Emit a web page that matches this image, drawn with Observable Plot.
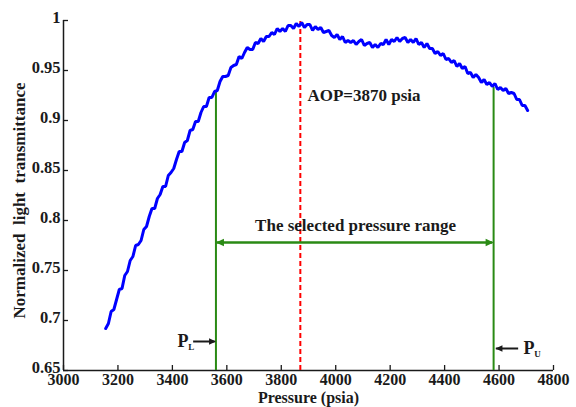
<!DOCTYPE html>
<html>
<head>
<meta charset="utf-8">
<script src="https://cdn.jsdelivr.net/npm/d3@7"></script>
<script src="https://cdn.jsdelivr.net/npm/@observablehq/plot@0.6"></script>
<style>
  html, body { margin: 0; padding: 0; background: #fff; }
  #chart svg { display: block; }
</style>
</head>
<body>
<div id="chart"></div>
<script>
// ---- data ----
const pressureStart = 3155, pressureStep = 10;
const transmittance = [
  0.692,0.697,0.709,0.711,0.721,0.731,0.732,0.745,0.749,0.760,
  0.764,0.775,0.776,0.780,0.791,0.794,0.804,0.812,0.812,0.822,
  0.826,0.834,0.834,0.845,0.848,0.852,0.861,0.869,0.869,0.878,
  0.880,0.890,0.891,0.899,0.899,0.908,0.914,0.914,0.923,0.923,
  0.929,0.930,0.939,0.944,0.944,0.945,0.953,0.955,0.956,0.964,
  0.962,0.968,0.973,0.971,0.971,0.978,0.977,0.982,0.979,0.984,
  0.984,0.988,0.986,0.992,0.989,0.992,0.989,0.995,0.995,0.992,
  0.997,0.994,0.998,0.993,0.996,0.996,0.990,0.994,0.991,0.993,
  0.988,0.989,0.990,0.985,0.983,0.986,0.981,0.984,0.978,0.980,
  0.978,0.980,0.976,0.979,0.981,0.975,0.977,0.978,0.973,0.976,
  0.973,0.977,0.976,0.981,0.976,0.981,0.979,0.983,0.979,0.982,
  0.983,0.978,0.981,0.978,0.982,0.976,0.978,0.973,0.977,0.972,
  0.972,0.967,0.969,0.965,0.967,0.961,0.962,0.958,0.960,0.954,
  0.957,0.952,0.954,0.947,0.948,0.943,0.946,0.943,0.938,0.941,
  0.936,0.938,0.934,0.937,0.931,0.933,0.930,0.932,0.927,0.928,
  0.927,0.921,0.921,0.915,0.915,0.910
];
const xTicks = [3000,3200,3400,3600,3800,4000,4200,4400,4600,4800];
const yTicks = [0.65,0.7,0.75,0.8,0.85,0.9,0.95,1];
const xDomain = [3000, 4800];
const yDomain = [0.65, 1];

const aop = 3870;                       // AOP pressure
const pLower = 3560, pUpper = 4580;     // selected range limits
const pLowerTop = 0.930, pUpperTop = 0.933;
const rangeArrowY = 0.778;
const rangeLabel = {x: 4073, y: 0.795, text: "The selected pressure range"};
const aopLabel = {x: 3896, y: 0.925, text: "AOP=3870 psia"};
const pLArrow = {x1: 3478, x2: pLower, y: 0.679};
const pUArrow = {x1: 4672, x2: pUpper + 7, y: 0.672};
const pLText = [{x: 3419, y: 0.679, t: "P", sub: false}, {x: 3458, y: 0.673, t: "L", sub: true}];
const pUText = [{x: 4690, y: 0.672, t: "P", sub: false}, {x: 4729, y: 0.666, t: "U", sub: true}];

const curve = transmittance.map((v, i) => ({p: pressureStart + i * pressureStep, v}));

// ---- styling ----
const W = 576, H = 407;
const mL = 63, mR = 23, mT = 20, mB = 37;
const frameW = W - mL - mR, frameH = H - mT - mB;
const font = "'Liberation Serif', 'Times New Roman', serif";
const green = "#2a8a14";
const ink = "#1a1a1a";

// arrow-head symbols with the tip at the origin
const headLeft = {draw(ctx, size) { const s = Math.sqrt(size); ctx.moveTo(0, 0); ctx.lineTo(1.5*s, -0.72*s); ctx.lineTo(1.5*s, 0.72*s); ctx.closePath(); }};
const headRight = {draw(ctx, size) { const s = Math.sqrt(size); ctx.moveTo(0, 0); ctx.lineTo(-1.5*s, -0.72*s); ctx.lineTo(-1.5*s, 0.72*s); ctx.closePath(); }};

const chart = Plot.plot({
  width: W, height: H,
  marginLeft: mL, marginRight: mR, marginTop: mT, marginBottom: mB,
  style: {fontFamily: font, fontWeight: "bold", fontSize: "16px", color: ink, background: "#fff"},
  x: {domain: xDomain, ticks: xTicks},
  y: {domain: yDomain, ticks: yTicks},
  marks: [
    Plot.axisX(xTicks, {tickSize: 0, tickPadding: 3, label: null, tickFormat: d => String(d), fontSize: 16, fontWeight: "bold", fill: ink}),
    Plot.axisY(yTicks, {tickSize: 0, tickPadding: 3, label: null, tickFormat: d => String(d), fontSize: 16.5, fontWeight: "bold", fill: ink, dy: -3}),
    // inward tick marks
    Plot.tickX(xTicks, {x: d => d, stroke: ink, strokeWidth: 1.3, insetTop: frameH - 5}),
    Plot.tickY(yTicks, {y: d => d, stroke: ink, strokeWidth: 1.3, insetRight: frameW - 5}),
    // spines
    Plot.ruleX([xDomain[0]], {stroke: ink, strokeWidth: 1.5}),
    Plot.ruleY([yDomain[0]], {stroke: ink, strokeWidth: 1.5}),
    // AOP line
    Plot.ruleX([aop], {y1: yDomain[0], y2: yDomain[1], stroke: "#ff0000", strokeWidth: 2, strokeDasharray: "5,3"}),
    // range limit lines
    Plot.ruleX([{x: pLower, top: pLowerTop}, {x: pUpper, top: pUpperTop}], {x: "x", y1: yDomain[0], y2: "top", stroke: green, strokeWidth: 2}),
    // curve
    Plot.line(curve, {x: "p", y: "v", stroke: "#0000ff", strokeWidth: 3, strokeLinejoin: "miter"}),
    // range double arrow
    Plot.ruleY([rangeArrowY], {x1: pLower + 3, x2: pUpper - 3, stroke: green, strokeWidth: 2.5}),
    Plot.dot([{x: pLower, y: rangeArrowY}], {x: "x", y: "y", r: 3, symbol: headLeft, fill: green, stroke: null}),
    Plot.dot([{x: pUpper, y: rangeArrowY}], {x: "x", y: "y", r: 3, symbol: headRight, fill: green, stroke: null}),
    Plot.text([rangeLabel], {x: "x", y: "y", text: "text", fontSize: 17, fontWeight: "bold", fill: ink}),
    Plot.text([aopLabel], {x: "x", y: "y", text: "text", textAnchor: "start", fontSize: 17, fontWeight: "bold", fill: ink}),
    // P_L and P_U markers
    Plot.ruleY([pLArrow], {x1: "x1", x2: d => d.x2 - 3, y: "y", stroke: ink, strokeWidth: 2}),
    Plot.dot([pLArrow], {x: "x2", y: "y", r: 2.6, symbol: headRight, fill: ink, stroke: null}),
    Plot.ruleY([pUArrow], {x1: d => d.x2 + 3, x2: "x1", y: "y", stroke: ink, strokeWidth: 2}),
    Plot.dot([pUArrow], {x: "x2", y: "y", r: 2.6, symbol: headLeft, fill: ink, stroke: null}),
    Plot.text(pLText.concat(pUText), {x: "x", y: "y", text: "t", textAnchor: "start", fontSize: d => d.sub ? 9 : 18, fontWeight: "bold", fill: ink}),
    // axis titles
    Plot.text(["Pressure (psia)"], {frameAnchor: "bottom", lineAnchor: "middle", dy: 27, fontSize: 16, fontWeight: "bold", fill: ink}),
    Plot.text(["Normalized\u00a0\u00a0light\u00a0\u00a0transmittance"], {frameAnchor: "left", textAnchor: "middle", lineAnchor: "middle", dx: -44, dy: 5, rotate: -90, fontSize: 17, fontWeight: "bold", fill: ink})
  ]
});
document.getElementById("chart").appendChild(chart);
</script>
</body>
</html>
